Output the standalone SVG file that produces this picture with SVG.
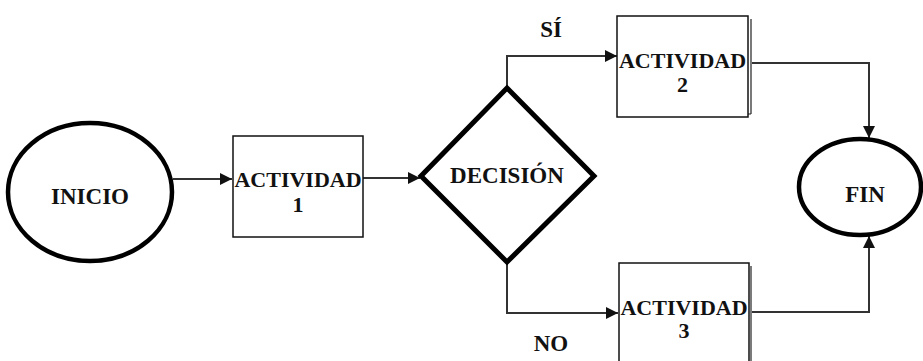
<svg xmlns="http://www.w3.org/2000/svg" width="923" height="361" viewBox="0 0 923 361">
  <style>
    text { font-family: 'Liberation Serif', 'Times New Roman', Times, 'DejaVu Serif', serif; font-weight: 700; fill: #111; text-anchor: middle; }
    .big { font-size: 23px; }
    .act { font-size: 22px; }
    .term { fill: #fff; stroke: #000; stroke-width: 4.5; }
    .box { fill: #fff; stroke: #111; stroke-width: 1.5; }
    .shadow { fill: none; stroke: #222; stroke-width: 1.2; }
    .dec { fill: #fff; stroke: #000; stroke-width: 5; stroke-linejoin: miter; }
    .conn { fill: none; stroke: #333; stroke-width: 2; }
  </style>
  <defs>
    <marker id="arrow" viewBox="0 0 10 10" refX="10" refY="5" markerWidth="6.5" markerHeight="6" markerUnits="strokeWidth" orient="auto">
      <path d="M0,0 L10,5 L0,10 z" fill="#111"/>
    </marker>
  </defs>

  <rect width="923" height="361" fill="#fff"/>

  <!-- connectors -->
  <g id="connectors">
    <path class="conn" d="M173,179 H232" marker-end="url(#arrow)"/>
    <path class="conn" d="M363,178 H420" marker-end="url(#arrow)"/>
    <path class="conn" d="M507,87 V56 H617" marker-end="url(#arrow)"/>
    <path class="conn" d="M507,262 V313 H618" marker-end="url(#arrow)"/>
    <path class="conn" d="M752,63 H869 V138" marker-end="url(#arrow)"/>
    <path class="conn" d="M752,312 H869 V236" marker-end="url(#arrow)"/>
    <text class="big" x="551" y="37" font-family="Liberation Serif, serif">SÍ</text>
    <text class="big" x="551" y="351" font-family="Liberation Serif, serif">NO</text>
  </g>

  <g id="inicio">
    <ellipse class="term" cx="90" cy="192" rx="82" ry="69"/>
    <text class="big" x="90" y="204">INICIO</text>
  </g>

  <g id="actividad1">
    <rect class="box" x="233" y="136" width="130" height="101"/>
    <text class="act" x="298" y="187">ACTIVIDAD</text>
    <text class="act" x="298" y="212">1</text>
  </g>

  <g id="decision">
    <path class="dec" d="M507,88 L594,176 L507,262 L421,176 Z"/>
    <text class="big" x="507" y="183">DECISIÓN</text>
  </g>

  <g id="actividad2">
    <path class="shadow" d="M751,19 V114 M748,114 H751"/>
    <rect class="box" x="617" y="16" width="131" height="101"/>
    <text class="act" x="682.5" y="68">ACTIVIDAD</text>
    <text class="act" x="682.5" y="92">2</text>
  </g>

  <g id="actividad3">
    <path class="shadow" d="M751,266 V361"/>
    <rect class="box" x="619" y="263" width="130" height="110"/>
    <text class="act" x="684" y="315">ACTIVIDAD</text>
    <text class="act" x="684" y="338">3</text>
  </g>

  <g id="fin">
    <ellipse class="term" cx="860" cy="187" rx="61" ry="48"/>
    <text class="big" x="865" y="202">FIN</text>
  </g>
</svg>
